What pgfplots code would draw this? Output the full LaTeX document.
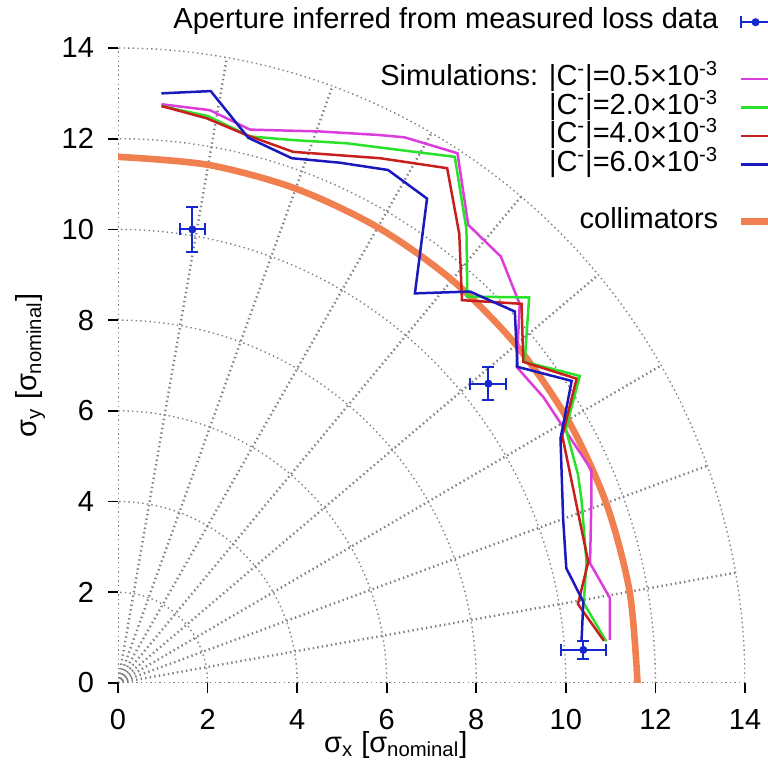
\documentclass[border=0pt]{standalone}
\usepackage{fontspec}
\setmainfont{Liberation Sans}
\usepackage{pgfplots}
\pgfplotsset{compat=1.18}

\definecolor{cmag}{RGB}{220,60,220}
\definecolor{cgrn}{RGB}{40,225,40}
\definecolor{cred}{RGB}{200,30,30}
\definecolor{cblu}{RGB}{25,25,190}
\definecolor{cerr}{RGB}{20,40,205}
\definecolor{corg}{RGB}{240,128,80}
\newcommand\fs{\fontsize{14.5}{17}\selectfont}

\begin{document}
\fs
\begin{tikzpicture}
\begin{axis}[
  scale only axis, width=313.5pt, height=317.5pt,
  xmin=0, xmax=14, ymin=0, ymax=14,
  xtick={0,2,...,14}, ytick={0,2,...,14},
  axis x line*=bottom, axis y line*=left,
  axis line style={draw=none},
  tick align=outside, major tick length=5pt,
  tick style={black, line width=0.8pt},
  /pgf/number format/assume math mode=true,
  ticklabel style={font=\fs},
  xticklabel style={yshift=-3pt},
  yticklabel style={xshift=-2pt},
  xlabel={σ\textsubscript{x} [σ\textsubscript{nominal}]},
  ylabel={σ\textsubscript{y} [σ\textsubscript{nominal}]},
  xlabel style={font=\fs, at={(axis description cs:0.443,-0.075)}, anchor=north, inner sep=0pt},
  ylabel style={font=\fs, at={(axis description cs:-0.14,0.5)}, anchor=center, rotate=0},
  legend style={draw=none, fill=none, at={(1.062,1.063)}, anchor=north east,
    inner sep=0pt, outer sep=0pt, row sep=0pt, column sep=9.5pt, font=\fs,
    nodes={inner sep=0pt, text height=10.5pt, text depth=3.75pt}},
  legend cell align=right, legend plot pos=right,
  legend image code/.code={\draw[#1] (0pt,0pt) -- (20pt,0pt);},
]
% polar grid
\pgfplotsinvokeforeach{2,4,6,8,10,12,14}{
  \draw[black!50, line width=0.7pt, dash pattern=on 0.7pt off 1.6pt] (axis cs:0,0) ellipse [x radius=#1, y radius=#1];
}
\pgfplotsinvokeforeach{0,10,20,30,40,50,60,70,80,90}{
  \draw[black!50, line width=1.2pt, dash pattern=on 0.7pt off 1.6pt] (axis cs:0,0) -- (axis cs:{14*cos(#1)},{14*sin(#1)});
}

% collimators
\addplot[corg, line width=3.3pt, smooth, forget plot] coordinates {
(11.6,0) (11.424,2.014) (10.900,3.967) (10.046,5.8) (8.886,7.456)
(7.456,8.886) (5.8,10.046) (3.967,10.900) (2.014,11.424) (0,11.6)};

% simulations
\addplot[cmag, line width=1.25pt, forget plot] coordinates {
(0.97,12.76) (2.05,12.63) (2.95,12.2) (4.5,12.16) (5.85,12.08) (6.4,12.03)
(7.58,11.68) (7.82,10.1) (8.55,9.4) (8.97,8.35) (8.9,6.97) (9.5,6.3)
(10.57,4.7) (10.57,4.03) (10.54,2.64) (10.98,1.88) (10.98,0.95)};
\addplot[cgrn, line width=1.25pt, forget plot] coordinates {
(0.97,12.72) (2.0,12.5) (2.95,12.05) (3.9,11.97) (5.1,11.9) (6.3,11.75)
(7.52,11.6) (7.78,10.0) (7.8,8.52) (9.18,8.5) (9.08,7.08) (10.31,6.77)
(10.0,5.6) (10.27,4.6) (10.35,4.03) (10.46,2.67) (10.4,1.76) (10.9,0.92)};
\addplot[cred, line width=1.25pt, forget plot] coordinates {
(0.97,12.72) (1.98,12.45) (2.87,12.08) (3.91,11.71) (5.85,11.57) (7.35,11.35)
(7.62,9.9) (7.68,8.44) (9.01,8.36) (9.05,7.08) (10.24,6.71) (9.92,5.45)
(10.5,2.67) (10.27,1.74) (10.85,0.93)};
\addplot[cblu, line width=1.25pt, forget plot] coordinates {
(0.97,13.0) (2.07,13.05) (2.91,12.02) (3.88,11.57) (4.96,11.47) (6.03,11.31)
(6.9,10.68) (6.63,8.59) (7.86,8.63) (8.86,8.19) (8.92,6.97) (10.13,6.66)
(9.88,5.39) (9.94,3.6) (10.01,2.53) (10.39,1.79) (10.35,0.93)};

% measured aperture
\addplot[cerr, only marks, mark=*, mark size=1.8pt, forget plot,
  error bars/.cd, x dir=both, x explicit, y dir=both, y explicit,
  error bar style={line width=1pt, cerr},
  error mark=|,
  error mark options={mark size=3pt, line width=1pt, cerr}]
coordinates {
(1.66,10.0) +- (0.28,0.5)
(8.27,6.6) +- (0.4,0.37)
(10.39,0.73) +- (0.5,0.19)};

% legend
\addlegendimage{legend image code/.code={
  \draw[cerr, line width=1pt] (0pt,0pt) -- (15pt,0pt);
  \draw[cerr, line width=1pt] (0pt,-3pt) -- (0pt,3pt) (15pt,-3pt) -- (15pt,3pt);
  \fill[cerr] (7.5pt,0pt) circle (1.8pt);}}
\addlegendentry{Aperture inferred from measured loss data}
\addlegendimage{empty legend}\addlegendentry{}
\addlegendimage{cmag, line width=1.25pt}
\addlegendentry{Simulations: |C\textsuperscript{-}|=0.5×10\textsuperscript{-3}}
\addlegendimage{cgrn, line width=1.25pt}
\addlegendentry{|C\textsuperscript{-}|=2.0×10\textsuperscript{-3}}
\addlegendimage{cred, line width=1.25pt}
\addlegendentry{|C\textsuperscript{-}|=4.0×10\textsuperscript{-3}}
\addlegendimage{cblu, line width=1.25pt}
\addlegendentry{|C\textsuperscript{-}|=6.0×10\textsuperscript{-3}}
\addlegendimage{empty legend}\addlegendentry{}
\addlegendimage{corg, line width=3.3pt}
\addlegendentry{collimators}
\end{axis}
\pgfresetboundingbox
\path ([shift={(-59pt,-45.5pt)}]current axis.south west) rectangle ([shift={(11pt,24pt)}]current axis.north east);
\end{tikzpicture}
\end{document}
